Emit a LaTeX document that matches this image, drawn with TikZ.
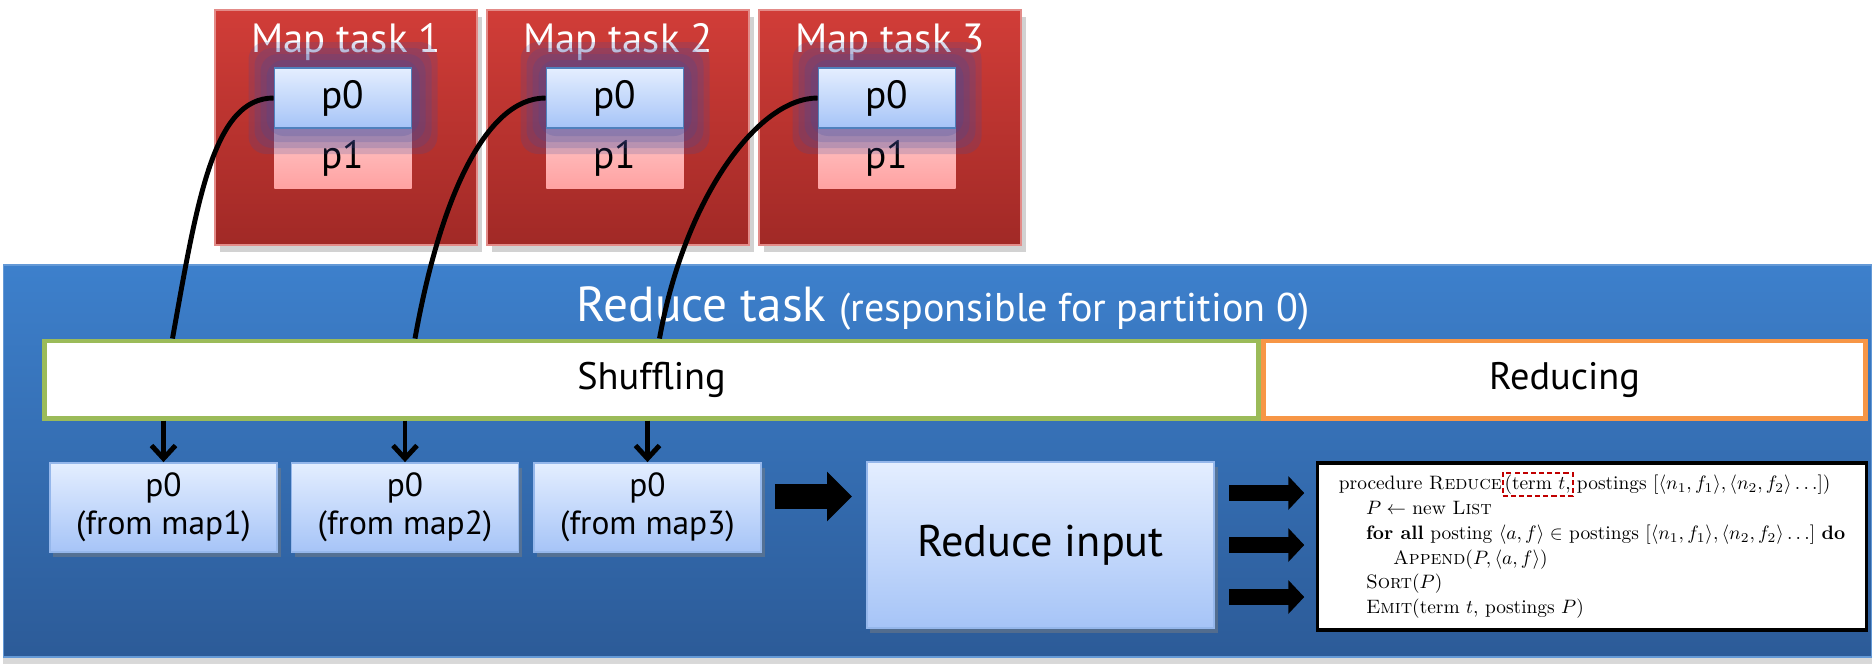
\documentclass[tikz,border=0pt]{standalone}
\usepackage{fontspec}
\usepackage{graphicx}
\setsansfont{PT Sans}
\usetikzlibrary{arrows.meta,calc,shadows}

\definecolor{mapred}{HTML}{D13D38}
\definecolor{mapdark}{HTML}{A12926}
\definecolor{glowblue}{HTML}{3F4A9E}
\definecolor{pzerotop}{HTML}{E4EEFF}
\definecolor{pzerobot}{HTML}{A6C4F7}
\definecolor{pzeroline}{HTML}{4F81BD}
\definecolor{ponetop}{HTML}{FFC6C6}
\definecolor{ponebot}{HTML}{FFA2A2}
\definecolor{redtop}{HTML}{3D80CC}
\definecolor{redbot}{HTML}{2C5B98}
\definecolor{shufgreen}{HTML}{9BBB59}
\definecolor{redorange}{HTML}{F79646}
\definecolor{termred}{HTML}{C00000}

\tikzset{
  maptask/.style={minimum width=2.62cm, minimum height=2.35cm, inner sep=0pt,
    top color=mapred, bottom color=mapdark, draw=mapred!60!white, line width=0.4pt,
    drop shadow={shadow xshift=1.5pt, shadow yshift=-2pt, opacity=0.35}},
  maptitle/.style={text=white, font=\sffamily\fontsize{11.6}{13}\selectfont},
  glow/.style={fill=glowblue, opacity=0.2, rounded corners=5pt},
  mpzero/.style={minimum width=1.37cm, minimum height=0.6cm, inner sep=0pt,
    top color=pzerotop, bottom color=pzerobot, draw=pzeroline, line width=0.5pt,
    font=\sffamily\fontsize{11.2}{13}\selectfont},
  mpone/.style={minimum width=1.37cm, minimum height=0.6cm, inner sep=0pt,
    top color=ponetop, bottom color=ponebot,
    font=\sffamily\fontsize{11.2}{13}\selectfont},
  reducetask/.style={minimum width=18.67cm, minimum height=3.92cm, inner sep=0pt,
    top color=redtop, bottom color=redbot, draw=redtop!80!white, line width=0.5pt,
    drop shadow={shadow xshift=0pt, shadow yshift=-2pt, opacity=0.3}},
  phase/.style={minimum height=0.77cm, inner sep=0pt, fill=white, line width=1.4pt,
    font=\sffamily\fontsize{10.9}{13}\selectfont},
  rbox/.style={inner sep=0pt, top color=pzerotop, bottom color=pzerobot,
    draw=pzerobot!80!pzeroline, line width=0.5pt, align=center,
    drop shadow={shadow xshift=1pt, shadow yshift=-1.5pt, opacity=0.45}},
  algbox/.style={minimum width=5.48cm, minimum height=1.67cm, inner sep=0pt,
    fill=white, draw=black, line width=0.9pt,
    font=\rmfamily\fontsize{10}{12.8}\selectfont},
  termbox/.style={draw=termred, dashed, dash pattern=on 2.6pt off 1.6pt, line width=1pt,
    fill=none, inner sep=1pt, minimum width=0pt, minimum height=0pt},
  shufline/.style={line width=1.4pt},
  shufarrow/.style={line width=1.4pt, -{Straight Barb[length=0.13cm, width=0.24cm]}},
  bigarrow/.style={line width=0.25cm, -{Triangle[length=0.25cm, width=0.48cm]}},
  smallarrow/.style={line width=0.16cm, -{Triangle[length=0.16cm, width=0.33cm]}}
}

\begin{document}
\begin{tikzpicture}[x=0.01cm, y=-0.01cm, font=\sffamily]
  \useasboundingbox[fill=white] (0,0) rectangle (1874,663);

  % map tasks
  \foreach \i/\cx in {1/346, 2/618, 3/890} {
    \node[maptask] (map\i) at (\cx,127.5) {};
    \node[maptitle] (mt\i) at (\cx,42) {Map task \i};
    \node[mpone] (mp1\i) at (\cx-3,158) {p1};
    \coordinate (c\i) at (\cx-3,98);
    \foreach \r in {26,20,14,8}
      \fill[glow] ($(c\i)+(-68.5-\r,-30-\r)$) rectangle ($(c\i)+(68.5+\r,30+\r)$);
    \node[mpzero] (mp0\i) at (c\i) {p0};
  }

  % reduce task
  \node[reducetask] (red) at (937.5,461) {};
  \node[text=white, font=\sffamily\fontsize{14}{16}\selectfont] (rt) at (943,308)
    {Reduce task {\fontsize{11.4}{13}\selectfont (responsible for partition 0)}};
  \node[phase, draw=shufgreen, minimum width=12.13cm] (shuf) at (651.5,379.5) {Shuffling};
  \node[phase, draw=redorange, minimum width=6.01cm] (redc) at (1564.5,379.5) {Reducing};

  \foreach \i/\x in {1/163.5, 2/405, 3/647.5}
    \node[rbox, minimum width=2.27cm, minimum height=0.89cm,
      font=\sffamily\fontsize{9.5}{10.8}\selectfont] (r\i) at (\x,507.5) {p0\\(from map\i)};
  \node[rbox, minimum width=3.47cm, minimum height=1.66cm,
    font=\sffamily\fontsize{12.6}{15}\selectfont] (rin) at (1040.5,545) {Reduce input};

  \node[algbox] (alg) at (1592,546.5) {\resizebox{5.06cm}{!}{%
    \begin{tabular}{@{}l@{}}
    procedure \textsc{Reduce}\tikz[baseline=(tt.base)]\node[termbox] (tt) {(term $t$,};\,postings $[\langle n_1, f_1\rangle, \langle n_2, f_2\rangle \ldots])$\\
    \hspace*{1.4em}$P \leftarrow$ new \textsc{List}\\
    \hspace*{1.4em}\textbf{for all} posting $\langle a, f\rangle \in$ postings $[\langle n_1, f_1\rangle, \langle n_2, f_2\rangle \ldots]$ \textbf{do}\\
    \hspace*{2.8em}\textsc{Append}$(P, \langle a, f\rangle)$\\
    \hspace*{1.4em}\textsc{Sort}$(P)$\\
    \hspace*{1.4em}\textsc{Emit}(term $t$, postings $P$)
    \end{tabular}}};

  % arrows
  \draw[bigarrow, shorten <=0.13cm, shorten >=0.14cm]
    ($(r3.east)+(0,-11)$) -- ($(rin.west |- r3.east)+(0,-11)$);
  \foreach \dy in {-52, 0, 52}
    \draw[smallarrow, shorten <=0.14cm, shorten >=0.12cm]
      ($(rin.east)+(0,\dy)$) -- ($(alg.west |- rin.east)+(0,\dy)$);

  % shuffle
  \foreach \i/\dx in {1/9, 2/10, 3/12} {
    \draw[shufline] (mp0\i.west) .. controls +(-60,0) and +(25,-140) ..
      ($(r\i.north |- shuf.north)+(\dx,0)$);
    \draw[shufarrow] (r\i.north |- shuf.south) -- (r\i.north);
  }
\end{tikzpicture}
\end{document}
